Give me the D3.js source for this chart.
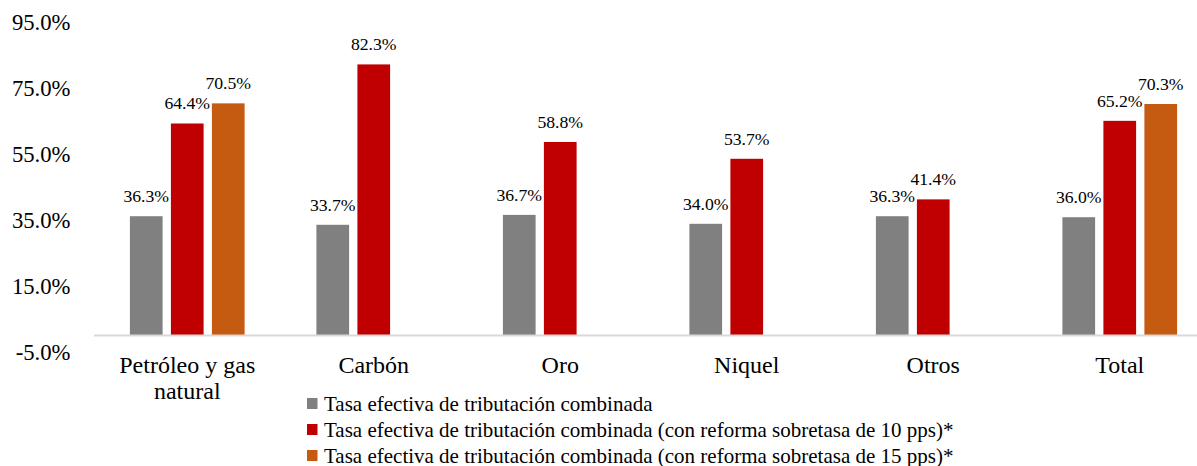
<!DOCTYPE html>
<html>
<head>
    <meta charset='utf-8'/>
    <title>Tasa efectiva de tributación</title>
    <style>
        body { margin: 0; background: #fff; }
        svg text { font-family: "Liberation Serif", "Times New Roman", serif; fill: #000; }
        .tick-label { font-size: 22.7px; }
        .cat-label { font-size: 24px; }
        .val-label { font-size: 17.7px; }
        .legend text { font-size: 21px; }
    </style>
</head>
<body>
<div id="chart"></div>

<script src="https://d3js.org/d3.v7.min.js"></script>
<script type="text/javascript">

    // data
    var categories = [["Petróleo y gas", "natural"], ["Carbón"], ["Oro"], ["Niquel"], ["Otros"], ["Total"]];
    var seriesNames = [
        "Tasa efectiva de tributación combinada",
        "Tasa efectiva de tributación combinada (con reforma sobretasa de 10 pps)*",
        "Tasa efectiva de tributación combinada (con reforma sobretasa de 15 pps)*"
    ];
    var tasaActual = [36.3, 33.7, 36.7, 34.0, 36.3, 36.0];
    var tasa10pps = [64.4, 82.3, 58.8, 53.7, 41.4, 65.2];
    var tasa15pps = [70.5, null, null, null, null, 70.3];
    var yTicks = [-5, 15, 35, 55, 75, 95];

    var colors = ["#808080", "#C00000", "#C55A11"];
    var series = [tasaActual, tasa10pps, tasa15pps];

    // plain hyphen for negatives, like the original
    var fmtPct = v => d3.format(".1f")(v).replace("\u2212", "-") + "%";

    // dims
    var svg_dx = 1197,
        svg_dy = 466;

    var svg = d3.select("#chart")
        .append("svg")
        .attr("width", svg_dx)
        .attr("height", svg_dy);

    // scales (last category runs past the right edge, like the original crop)
    var x0 = d3.scaleBand()
        .domain(d3.range(categories.length))
        .range([94, 1213])
        .padding(0);

    var groupW = 114.7;
    var x1 = d3.scaleBand()
        .domain(d3.range(series.length))
        .range([0, groupW])
        .paddingInner(0.2024)
        .paddingOuter(0);

    var y = d3.scaleLinear()
        .domain([-5, 95])
        .range([352.5, 22.5]);

    // y tick labels (no gridlines)
    svg.append("g")
        .selectAll("text")
        .data(yTicks)
        .enter()
        .append("text")
        .attr("class", "tick-label")
        .attr("x", 70.5)
        .attr("y", d => y(d))
        .attr("dy", "0.35em")
        .attr("text-anchor", "end")
        .text(fmtPct);

    // bars
    var groups = svg.append("g")
        .selectAll("g")
        .data(categories)
        .enter()
        .append("g")
        .attr("transform", (d, i) => "translate(" + (x0(i) + (x0.bandwidth() - groupW) / 2) + ",0)");

    groups.each(function (cat, ci) {
        var g = d3.select(this);
        var vals = series.map((s, si) => ({si: si, v: s[ci]})).filter(d => d.v !== null);

        g.selectAll("rect")
            .data(vals)
            .enter()
            .append("rect")
            .attr("x", d => x1(d.si))
            .attr("width", x1.bandwidth())
            .attr("y", d => y(d.v))
            .attr("height", d => y(0) - y(d.v))
            .attr("fill", d => colors[d.si]);

        g.selectAll("text")
            .data(vals)
            .enter()
            .append("text")
            .attr("class", "val-label")
            .attr("x", d => x1(d.si) + x1.bandwidth() / 2)
            .attr("y", d => y(d.v) - 14)
            .attr("text-anchor", "middle")
            .text(d => fmtPct(d.v));
    });

    // category axis line
    svg.append("line")
        .attr("x1", 94)
        .attr("x2", svg_dx)
        .attr("y1", y(0) - 0.5)
        .attr("y2", y(0) - 0.5)
        .attr("stroke", "#d9d9d9")
        .attr("stroke-width", 2);

    // category labels
    var catLabels = svg.append("g")
        .selectAll("text")
        .data(categories)
        .enter()
        .append("text")
        .attr("class", "cat-label")
        .attr("text-anchor", "middle")
        .attr("x", (d, i) => x0(i) + x0.bandwidth() / 2)
        .attr("y", 373);

    catLabels.selectAll("tspan")
        .data(d => d)
        .enter()
        .append("tspan")
        .attr("x", function () { return d3.select(this.parentNode).attr("x"); })
        .attr("dy", (d, i) => i === 0 ? 0 : 26)
        .text(d => d);

    /* legend */
    var legend = svg.append("g")
        .attr("class", "legend")
        .attr("transform", "translate(307,0)");

    var items = legend.selectAll("g")
        .data(seriesNames)
        .enter()
        .append("g")
        .attr("transform", (d, i) => "translate(0," + (403.5 + i * 26) + ")");

    items.append("rect")
        .attr("x", 0)
        .attr("y", -5.5)
        .attr("width", 10.5)
        .attr("height", 11)
        .attr("fill", (d, i) => colors[i]);

    items.append("text")
        .attr("x", 17)
        .attr("y", 7)
        .text(d => d);

</script>

</body>
</html>
